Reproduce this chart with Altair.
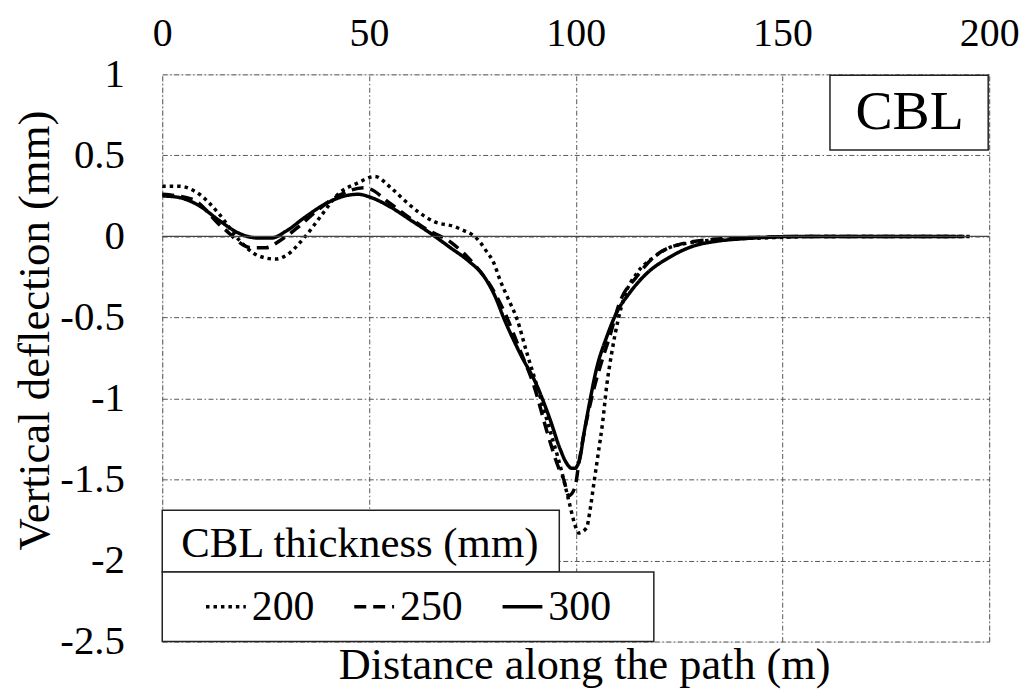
import altair as alt
import pandas as pd

FONT = "Liberation Serif"

# ---- data ----
series_labels = ["200", "250", "300"]

x_200 = [0, 4, 9, 13.7, 18.5, 23.3, 27.4, 29.8, 34.6, 38.5, 42.5, 47.3, 51.4, 55.3, 58.7,
         62, 65.9, 70.7, 72.6, 75, 76.7, 78.1, 80.3, 81.7, 83.4, 85.8, 88.2, 90.6, 93.0,
         96.6, 98.6, 99.8, 100.7, 102.6, 103.4, 104.3, 105.5, 106.5, 107.5, 108.7, 110.3,
         111.8, 114.7, 118.8, 122.6, 127.4, 135, 145, 160, 180, 196]
y_200 = [0.31, 0.31, 0.26, 0.14, -0.02, -0.12, -0.14, -0.12, 0.0, 0.13, 0.26, 0.33, 0.37, 0.30, 0.22,
         0.15, 0.09, 0.06, 0.04, 0.01, -0.03, -0.08, -0.17, -0.27, -0.37, -0.51, -0.72, -0.92, -1.13,
         -1.45, -1.66, -1.78, -1.83, -1.80, -1.70, -1.54, -1.33, -1.15, -0.92, -0.72, -0.51,
         -0.37, -0.23, -0.13, -0.07, -0.04, -0.02, -0.01, 0.0, 0.0, 0.0]

x_250 = [0, 7.2, 14.4, 21.6, 25, 28.8, 33, 37, 42.5, 49, 55.3, 59.5, 63.5, 70, 75.7, 80, 83,
         86.5, 90, 93, 95.9, 97.1, 98.3, 99.8, 100.7, 102.2, 104.3, 106.3, 108.2, 110.6,
         114.7, 118.8, 126.7, 135, 145, 160, 180, 194]
y_250 = [0.26, 0.23, 0.06, -0.07, -0.07, -0.02, 0.06, 0.15, 0.25, 0.30, 0.20, 0.12, 0.05, -0.04,
         -0.18, -0.33, -0.48, -0.70, -0.93, -1.20, -1.43, -1.50, -1.60, -1.55, -1.41, -1.19,
         -0.95, -0.77, -0.62, -0.41, -0.25, -0.13, -0.04, -0.015, -0.005, 0, 0, 0]

x_300 = [0, 4.1, 8.9, 13.7, 18.5, 23.3, 26.4, 29.8, 34.6, 39.4, 44.2, 47.4, 50.5, 55.3, 60.1,
         65.4, 69.7, 74, 77.9, 80.5, 82.7, 86.5, 90.6, 93.8, 96.2, 97.8, 99, 99.8, 101, 101.9,
         103.4, 105, 107.5, 109.9, 113, 117.1, 122.6, 128.4, 134, 140, 146.6, 153, 170, 192]
y_300 = [0.25, 0.24, 0.19, 0.10, 0.02, -0.01, -0.01, 0.03, 0.12, 0.20, 0.25, 0.26, 0.24, 0.18, 0.10,
         0.01, -0.07, -0.15, -0.25, -0.37, -0.51, -0.72, -0.92, -1.13, -1.31, -1.40, -1.43, -1.43,
         -1.37, -1.23, -1.02, -0.82, -0.62, -0.47, -0.35, -0.23, -0.13, -0.06, -0.03, -0.015,
         -0.005, 0, 0, 0]

x_ticks = [0, 50, 100, 150, 200]
y_ticks = [1, 0.5, 0, -0.5, -1, -1.5, -2, -2.5]

# ---- build table ----
rows = []
for lab, xs, ys in [("200", x_200, y_200), ("250", x_250, y_250), ("300", x_300, y_300)]:
    for a, b in zip(xs, ys):
        rows.append({"dist": a, "defl": b, "series": lab})
df = pd.DataFrame(rows)

W, H = 831, 570
GRID_DASH = [5, 2.5, 1.5, 2.5]
xscale = alt.Scale(domain=[0, 200], nice=False, zero=False)
yscale = alt.Scale(domain=[-2.5, 1], nice=False, zero=False)

x_axis = alt.Axis(orient="top", values=x_ticks, title=None, grid=True,
                  gridColor="#555", gridDash=GRID_DASH, gridWidth=1,
                  domain=False, ticks=False, tickSize=0,
                  labelFont=FONT, labelFontSize=40, labelColor="black",
                  labelBaseline="alphabetic", labelPadding=29,
                  labelFlush=False, labelOverlap=False)
x_title_axis = alt.Axis(orient="bottom", values=x_ticks, title="Distance along the path (m)",
                        grid=False, domain=False, ticks=False, labels=False,
                        titleFont=FONT, titleFontSize=44.5, titleFontWeight="normal",
                        titleColor="black", titleBaseline="alphabetic", titleAlign="center",
                        titleX=424, titleY=37, titleLimit=900)
y_axis = alt.Axis(values=y_ticks, title="Vertical deflection (mm)", grid=True,
                  gridColor="#555", gridDash=GRID_DASH, gridWidth=1,
                  domain=False, ticks=False, tickSize=0,
                  labelFont=FONT, labelFontSize=41, labelColor="black",
                  labelPadding=38, labelFlush=False, labelOverlap=False,
                  labelExpr="'' + datum.value",
                  titleFont=FONT, titleFontSize=45, titleFontWeight="normal",
                  titleColor="black", titleAngle=270, titleBaseline="alphabetic",
                  titleAlign="center", titleX=-114, titleY=257, titleLimit=800)

lines = alt.Chart(df).mark_line(color="black", strokeWidth=3.5, interpolate="monotone").encode(
    x=alt.X("dist:Q", scale=xscale, axis=x_axis),
    y=alt.Y("defl:Q", scale=yscale, axis=y_axis),
    strokeDash=alt.StrokeDash(
        "series:N",
        scale=alt.Scale(domain=series_labels, range=[[3.5, 4], [12, 7], [1, 0]]),
        legend=alt.Legend(
            title="CBL thickness (mm)", orient="none", legendX=19, legendY=451,
            direction="horizontal", titleFont=FONT, titleFontSize=43,
            titleFontWeight="normal", titleColor="black", titlePadding=19,
            titleLimit=600, labelLimit=300,
            labelFont=FONT, labelFontSize=42, labelColor="black", labelOffset=4,
            symbolType="stroke", symbolSize=1600, symbolStrokeWidth=3.5,
            symbolStrokeColor="black", symbolOffset=23, columnPadding=15, padding=0,
        ),
    ),
)

zero_df = pd.DataFrame({"v": [0]})
zero_rule = alt.Chart(zero_df).mark_rule(color="#444", strokeWidth=1.3).encode(
    y=alt.Y("v:Q", scale=yscale, axis=y_axis)
)

# invisible layer that carries the bottom axis (title only)
title_carrier = alt.Chart(zero_df).mark_point(opacity=0).encode(
    x=alt.X("v:Q", scale=xscale, axis=x_title_axis),
    y=alt.Y("v:Q", scale=yscale, axis=y_axis),
)

one = pd.DataFrame({"k": [0]})
box1 = alt.Chart(one).mark_rect(fill="white", stroke="#222", strokeWidth=1.5).encode(
    x=alt.value(0), x2=alt.value(399), y=alt.value(438), y2=alt.value(500))
box2 = alt.Chart(one).mark_rect(fill="white", stroke="#222", strokeWidth=1.5).encode(
    x=alt.value(0), x2=alt.value(494), y=alt.value(500), y2=alt.value(570))
box3 = alt.Chart(one).mark_rect(fill="white", stroke="#222", strokeWidth=1.5).encode(
    x=alt.value(671), x2=alt.value(830), y=alt.value(1), y2=alt.value(76))
cbl_text = alt.Chart(one).mark_text(text="CBL", font=FONT, fontSize=56, color="black",
                                    align="center", baseline="alphabetic").encode(
    x=alt.value(751), y=alt.value(55))

chart = alt.layer(lines, zero_rule, title_carrier, box1, box2, box3, cbl_text).properties(
    width=W, height=H,
    autosize=alt.AutoSizeParams(type="none"),
    padding={"left": 155, "top": 65, "right": 38, "bottom": 47},
).configure_view(stroke="#777", strokeWidth=1.5).configure(background="white")

chart.save("out.html", embed_options={"renderer": "svg", "actions": False})
